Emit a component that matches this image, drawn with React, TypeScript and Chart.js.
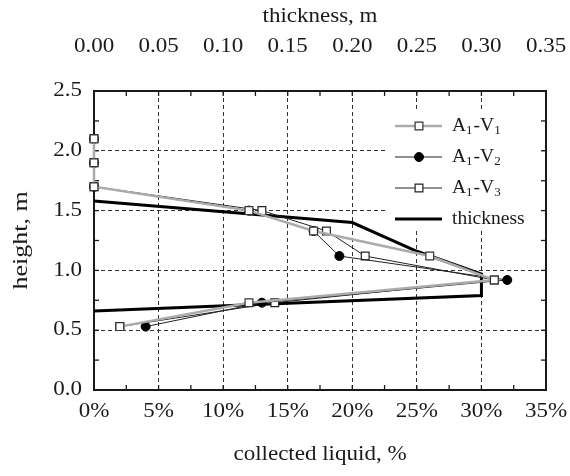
import React, { useEffect, useRef } from 'react';
import { Chart, registerables } from 'chart.js';
Chart.register(...registerables);

// ---- data ----
const heights = [2.1, 1.9, 1.7, 1.5, 1.33, 1.12, 0.92, 0.73, 0.53];
const liquidV1 = [0, 0, 0, 12, 17, 26, 31, 12, 2];
const liquidV2 = [0, 0, 0, 12, 17, 19, 32, 13, 4];
const liquidV3 = [0, 0, 0, 13, 18, 21, 31, 14, 2];
const thicknessX = [0, 0.2, 0.25, 0.3, 0.3, 0];
const thicknessY = [1.58, 1.4, 1.16, 0.97, 0.79, 0.66];
const seriesNames = ['A1-V1', 'A1-V2', 'A1-V3', 'thickness'];
const xTitle = 'collected liquid, %';
const x2Title = 'thickness, m';
const yTitle = 'height, m';
const xMax = 35;
const x2Max = 0.35;
const yMax = 2.5;

const FONT = "'Liberation Serif', 'Times New Roman', serif";
const INK = '#1a1a1a';

const toPts = (xs: number[], ys: number[]) => xs.map((x, i) => ({ x, y: ys[i] }));

// horizontally widen axis text (reference uses a wide serif face)
function patchText(chart: any) {
  const ctx = chart.ctx as any;
  if (ctx.__patched) return;
  ctx.__patched = true;
  const orig = ctx.fillText.bind(ctx);
  ctx.fillText = (text: string, x: number, y: number, maxWidth?: number) => {
    let sx = ctx.__noStretch ? 1 : 1.15;
    if (text === yTitle) sx = 1.3;
    if (sx === 1) return maxWidth === undefined ? orig(text, x, y) : orig(text, x, y, maxWidth);
    ctx.save();
    ctx.translate(x, y);
    ctx.scale(sx, 1);
    orig(text, 0, 0);
    ctx.restore();
  };
}

const framePlugin = {
  id: 'frame',
  beforeDraw(chart: any) {
    patchText(chart);
  },
  beforeDatasetsDraw(chart: any) {
    const { ctx, chartArea, scales } = chart;
    const { left, right, top, bottom } = chartArea;
    ctx.save();
    ctx.strokeStyle = INK;
    ctx.lineWidth = 1.3;
    const tl = 5;
    const line = (a: number, b: number, c: number, d: number) => {
      ctx.beginPath(); ctx.moveTo(a, b); ctx.lineTo(c, d); ctx.stroke();
    };
    for (let v = 0; v <= xMax + 1e-9; v += 2.5) {
      const px = scales.x.getPixelForValue(v);
      line(px, bottom, px, bottom - tl);
      line(px, top, px, top + tl);
    }
    for (let v = 0; v <= yMax + 1e-9; v += 0.25) {
      const py = scales.y.getPixelForValue(v);
      line(left, py, left + tl, py);
      line(right, py, right - tl, py);
    }
    ctx.lineWidth = 2;
    ctx.strokeRect(left, top, right - left, bottom - top);
    ctx.restore();
  },
};

function drawMarker(ctx: CanvasRenderingContext2D, ds: any, x: number, y: number) {
  const r = ds.pointRadius || 0;
  if (!r) return;
  ctx.save();
  ctx.fillStyle = ds.pointBackgroundColor;
  ctx.strokeStyle = ds.pointBorderColor;
  ctx.lineWidth = ds.pointBorderWidth;
  ctx.beginPath();
  if (ds.pointStyle === 'rect') {
    const s = Math.SQRT1_2 * r;
    ctx.rect(x - s, y - s, 2 * s, 2 * s);
  } else {
    ctx.arc(x, y, r, 0, Math.PI * 2);
  }
  ctx.fill();
  ctx.stroke();
  ctx.restore();
}

const legendPlugin = {
  id: 'customLegend',
  afterDatasetsDraw(chart: any) {
    const { ctx, chartArea } = chart;
    const boxL = chartArea.right - 158;
    const boxT = chartArea.top + 19;
    ctx.save();
    (ctx as any).__noStretch = true;
    ctx.fillStyle = '#fff';
    ctx.fillRect(boxL, boxT, 152, 120);
    chart.data.datasets.forEach((ds: any, i: number) => {
      const cy = chartArea.top + 35 + i * 31;
      ctx.strokeStyle = ds.borderColor;
      ctx.lineWidth = ds.borderWidth;
      ctx.beginPath();
      ctx.moveTo(boxL + 7, cy);
      ctx.lineTo(boxL + 54, cy);
      ctx.stroke();
      drawMarker(ctx, ds, boxL + 31, cy);
      let tx = boxL + 64;
      ctx.fillStyle = INK;
      ctx.textBaseline = 'middle';
      ctx.textAlign = 'left';
      const parts = String(ds.label).split(/(\d)/).filter((p) => p.length);
      parts.forEach((p) => {
        if (/^\d$/.test(p)) {
          ctx.font = `13px ${FONT}`;
          ctx.fillText(p, tx, cy + 5);
          tx += ctx.measureText(p).width + 1;
        } else {
          ctx.font = `19.5px ${FONT}`;
          ctx.fillText(p, tx, cy);
          tx += ctx.measureText(p).width;
        }
      });
    });
    (ctx as any).__noStretch = false;
    ctx.restore();
  },
};

const noPadH = (s: any, h: number) => { s.height = h; s.paddingLeft = 0; s.paddingRight = 0; };
const noPadV = (s: any, w: number) => { s.width = w; s.paddingTop = 0; s.paddingBottom = 0; };

export default function App() {
  const ref = useRef<HTMLCanvasElement>(null);
  useEffect(() => {
    Chart.defaults.font.family = FONT;
    Chart.defaults.font.size = 20;
    Chart.defaults.color = INK;
    const gridColor = (c: any) =>
      c.tick && (c.tick.value <= 0 || Math.abs(c.tick.value - c.scale.max) < 1e-9) ? 'rgba(0,0,0,0)' : '#333';
    const chart = new Chart(ref.current!, {
      type: 'line',
      data: {
        datasets: [
          {
            label: seriesNames[0],
            data: toPts(liquidV1, heights),
            xAxisID: 'x', yAxisID: 'y',
            borderColor: '#ababab', borderWidth: 2.5,
            pointStyle: 'rect', pointRadius: 5.5,
            pointBackgroundColor: '#fff', pointBorderColor: '#333', pointBorderWidth: 1.2,
            clip: false as any,
          },
          {
            label: seriesNames[1],
            data: toPts(liquidV2, heights),
            xAxisID: 'x', yAxisID: 'y',
            borderColor: '#222', borderWidth: 1,
            pointStyle: 'circle', pointRadius: 4.5,
            pointBackgroundColor: '#000', pointBorderColor: '#000', pointBorderWidth: 1,
            clip: false as any,
          },
          {
            label: seriesNames[2],
            data: toPts(liquidV3, heights),
            xAxisID: 'x', yAxisID: 'y',
            borderColor: '#222', borderWidth: 1,
            pointStyle: 'rect', pointRadius: 5.5,
            pointBackgroundColor: '#fff', pointBorderColor: '#222', pointBorderWidth: 1.2,
            clip: false as any,
          },
          {
            label: seriesNames[3],
            data: toPts(thicknessX, thicknessY),
            xAxisID: 'x2', yAxisID: 'y',
            borderColor: '#000', borderWidth: 3,
            pointRadius: 0,
            clip: false as any,
          },
        ],
      },
      options: {
        animation: false,
        responsive: false,
        layout: { padding: 0 },
        plugins: { legend: { display: false }, tooltip: { enabled: false } },
        elements: { line: { tension: 0 } },
        scales: {
          x: {
            type: 'linear', position: 'bottom', min: 0, max: xMax,
            ticks: { stepSize: 5, padding: 10, callback: (v: any) => `${v}%`, font: { size: 20 } },
            grid: { color: gridColor, lineWidth: 1, drawTicks: false },
            border: { display: false, dash: [4, 3] },
            title: { display: true, text: xTitle, font: { size: 20 }, padding: { top: 0, bottom: 9 } },
            afterFit: (s: any) => noPadH(s, 86),
          },
          x2: {
            type: 'linear', position: 'top', min: 0, max: x2Max,
            ticks: { stepSize: 0.05, padding: 32, callback: (v: any) => Number(v).toFixed(2), font: { size: 20 } },
            grid: { display: false, drawTicks: false },
            border: { display: false },
            title: { display: true, text: x2Title, font: { size: 20 }, padding: { top: 5, bottom: 0 } },
            afterFit: (s: any) => noPadH(s, 91),
          },
          y: {
            type: 'linear', position: 'left', min: 0, max: yMax,
            ticks: { stepSize: 0.5, padding: 12, callback: (v: any) => Number(v).toFixed(1), font: { size: 20 } },
            grid: { color: gridColor, lineWidth: 1, drawTicks: false },
            border: { display: false, dash: [4, 3] },
            title: { display: true, text: yTitle, font: { size: 20 }, padding: { top: 10, bottom: 0 } },
            afterFit: (s: any) => noPadV(s, 94),
          },
          yRight: {
            type: 'linear', position: 'right', min: 0, max: yMax,
            ticks: { display: false },
            grid: { display: false, drawTicks: false },
            border: { display: false },
            afterFit: (s: any) => noPadV(s, 24),
          },
        },
      } as any,
      plugins: [framePlugin, legendPlugin],
    });
    return () => chart.destroy();
  }, []);
  return (
    <div style={{ position: 'absolute', left: 0, top: 0, width: 570, height: 476, background: '#fff' }}>
      <canvas ref={ref} width={570} height={476} />
    </div>
  );
}
